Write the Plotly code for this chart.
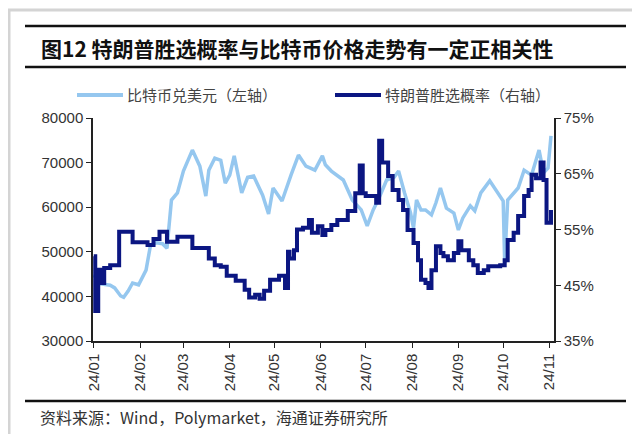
import plotly.graph_objects as go

# 比特币兑美元（左轴）
btc_dates = [
    "2024-01-01", "2024-01-03", "2024-01-06", "2024-01-12", "2024-01-15",
    "2024-01-19", "2024-01-21", "2024-01-24", "2024-01-27", "2024-01-31",
    "2024-02-05", "2024-02-08", "2024-02-12", "2024-02-16", "2024-02-19",
    "2024-02-22", "2024-02-26", "2024-03-01", "2024-03-07", "2024-03-12",
    "2024-03-16", "2024-03-18", "2024-03-22", "2024-03-26", "2024-03-29",
    "2024-04-01", "2024-04-04", "2024-04-09", "2024-04-13", "2024-04-17",
    "2024-04-23", "2024-04-27", "2024-04-30", "2024-05-06", "2024-05-12",
    "2024-05-17", "2024-05-22", "2024-05-28", "2024-06-02", "2024-06-04",
    "2024-06-08", "2024-06-16", "2024-06-22", "2024-06-28", "2024-07-02",
    "2024-07-06", "2024-07-10", "2024-07-15", "2024-07-20", "2024-07-23",
    "2024-07-27", "2024-07-31", "2024-08-02", "2024-08-04", "2024-08-07",
    "2024-08-10", "2024-08-14", "2024-08-17", "2024-08-20", "2024-08-24",
    "2024-08-29", "2024-09-01", "2024-09-04", "2024-09-09", "2024-09-12",
    "2024-09-16", "2024-09-22", "2024-09-28", "2024-10-01", "2024-10-02",
    "2024-10-04", "2024-10-11", "2024-10-15", "2024-10-20", "2024-10-25",
    "2024-10-28", "2024-10-31", "2024-11-02",
]
btc_usd = [
    44200, 45200, 42800, 42500, 41900,
    40100, 39800, 41200, 43000, 42600,
    45900, 51500, 52000, 51800, 50800,
    61600, 63200, 68100, 72800, 69200,
    62500, 68300, 71000, 70500, 65400,
    67200, 71500, 63200, 66700, 67000,
    62700, 58500, 64300, 61400, 67200,
    71700, 69200, 68300, 71500, 69500,
    68100, 66100, 61600, 59400, 55800,
    59400, 62100, 66100, 66700, 68100,
    63200, 58700, 55300, 61600, 59400,
    59400, 58300, 61000, 64300, 59800,
    58700, 54900, 57600, 60300, 59200,
    63200, 65900, 62700, 61400, 47500,
    61600, 64300, 68300, 67200, 72800,
    67700, 68800, 76000,
]

# 特朗普胜选概率（右轴），%
trump_dates = [
    "2024-01-01", "2024-01-02", "2024-01-04", "2024-01-06", "2024-01-08",
    "2024-01-12", "2024-01-18", "2024-01-27", "2024-02-06", "2024-02-10",
    "2024-02-14", "2024-02-19", "2024-02-26", "2024-03-07", "2024-03-18",
    "2024-03-22", "2024-03-26", "2024-03-30", "2024-04-05", "2024-04-11",
    "2024-04-14", "2024-04-18", "2024-04-21", "2024-04-24", "2024-04-28",
    "2024-05-04", "2024-05-08", "2024-05-10", "2024-05-11", "2024-05-14",
    "2024-05-16", "2024-05-20", "2024-05-24", "2024-05-26", "2024-05-30",
    "2024-06-02", "2024-06-04", "2024-06-08", "2024-06-12", "2024-06-19",
    "2024-06-24", "2024-06-27", "2024-06-29", "2024-07-01", "2024-07-08",
    "2024-07-10", "2024-07-12", "2024-07-16", "2024-07-19", "2024-07-23",
    "2024-07-26", "2024-07-29", "2024-08-02", "2024-08-05", "2024-08-07",
    "2024-08-10", "2024-08-12", "2024-08-14", "2024-08-17", "2024-08-20",
    "2024-08-22", "2024-08-25", "2024-08-29", "2024-09-01", "2024-09-03",
    "2024-09-08", "2024-09-11", "2024-09-14", "2024-09-18", "2024-09-21",
    "2024-09-29", "2024-10-02", "2024-10-04", "2024-10-08", "2024-10-11",
    "2024-10-15", "2024-10-18", "2024-10-20", "2024-10-23", "2024-10-26",
    "2024-10-28", "2024-10-30", "2024-11-02",
]
trump_prob = [
    50.2, 40.4, 47.8, 45.4, 48.1,
    48.6, 54.6, 52.7, 52.2, 53.3,
    54.6, 52.8, 53.7, 51.7, 49.8,
    48.6, 48.3, 46.7, 45.8, 44.2,
    42.8, 43.3, 42.6, 44.0, 46.0,
    46.7, 44.5, 51.0, 49.8, 51.3,
    55.0, 55.3, 56.7, 54.4, 55.6,
    54.0, 54.9, 55.8, 56.7, 58.3,
    61.5, 66.5, 61.5, 61.0, 59.8,
    70.9, 67.0, 64.6, 62.1, 60.3,
    58.5, 54.9, 52.6, 49.5, 46.0,
    45.4, 44.5, 47.7, 52.0, 50.8,
    50.2, 49.5, 50.8, 52.9, 51.3,
    49.5, 48.6, 47.2, 47.7, 48.4,
    48.6, 49.5, 53.1, 54.4, 57.4,
    61.0, 62.1, 64.8, 64.2, 67.0,
    63.9, 56.2, 58.5,
]

W, H = 640, 434
L, R, T, B = 85, 546, 110, 333  # plot area in pixels


def px(x):
    return (x - L) / (R - L)


def py(y):
    return (B - y) / (B - T)


CJK = "Noto Sans CJK SC"
NUM = "Liberation Sans, Arial"
BTC_COLOR = "#95C7EF"
TRUMP_COLOR = "#0B1682"
BTC_NAME = "比特币兑美元（左轴）"
TRUMP_NAME = "特朗普胜选概率（右轴）"

fig = go.Figure()
fig.add_trace(go.Scatter(
    x=btc_dates, y=btc_usd, mode="lines", name=BTC_NAME,
    line=dict(color=BTC_COLOR, width=3.5), yaxis="y",
))
fig.add_trace(go.Scatter(
    x=trump_dates, y=trump_prob, mode="lines", name=TRUMP_NAME,
    line=dict(color=TRUMP_COLOR, width=4, shape="hv"), yaxis="y2",
))

axis_common = dict(
    showline=True, linecolor="#222", linewidth=1.5, ticks="outside",
    ticklen=5, tickcolor="#222", showgrid=False, zeroline=False,
    tickfont=dict(family=NUM, size=15, color="#333"),
)

fig.update_layout(
    width=W, height=H,
    margin=dict(l=L, r=W - R, t=T, b=H - B),
    paper_bgcolor="white", plot_bgcolor="white",
    showlegend=False,
    xaxis=dict(
        type="date", range=["2023-12-31 12:00", "2024-11-04"],
        tickformat="%y/%m", dtick="M1", tick0="2024-01-01", tickangle=-90,
        **axis_common,
    ),
    yaxis=dict(range=[30000, 80000], dtick=10000, tickformat="d", **axis_common),
    yaxis2=dict(
        range=[35, 75], dtick=10, tick0=35, ticksuffix="%", overlaying="y",
        side="right", **axis_common,
    ),
)

# 图例（手动放置，保持在一行）
for name, color, x0 in ((BTC_NAME, BTC_COLOR, 69), (TRUMP_NAME, TRUMP_COLOR, 327)):
    fig.add_shape(
        type="line", xref="paper", yref="paper", x0=px(x0), x1=px(x0 + 46),
        y0=py(87), y1=py(87), line=dict(color=color, width=4),
    )
    fig.add_annotation(
        text=name, xref="paper", yref="paper", x=px(x0 + 48), y=py(87),
        xanchor="left", yanchor="middle", showarrow=False,
        font=dict(family=CJK, size=15, color="#444"),
    )

# 标题、来源与外框
fig.add_annotation(
    text="<b>图12 特朗普胜选概率与比特币价格走势有一定正相关性</b>",
    xref="paper", yref="paper", x=px(31), y=py(40), xanchor="left",
    yanchor="middle", showarrow=False,
    font=dict(family=CJK, size=21, color="#111"),
)
fig.add_annotation(
    text="资料来源：Wind，Polymarket，海通证券研究所",
    xref="paper", yref="paper", x=px(30), y=py(409), xanchor="left",
    yanchor="middle", showarrow=False,
    font=dict(family=CJK, size=16, color="#333"),
)
for y in (18, 59, 393):
    fig.add_shape(
        type="line", xref="paper", yref="paper", x0=px(17), x1=px(618),
        y0=py(y), y1=py(y), line=dict(color="#111", width=2.5),
    )
fig.add_shape(
    type="rect", xref="paper", yref="paper", x0=px(1), x1=px(626),
    y0=py(2), y1=py(428), line=dict(color="#d4d4d4", width=3),
)

fig.write_html("out.html")
